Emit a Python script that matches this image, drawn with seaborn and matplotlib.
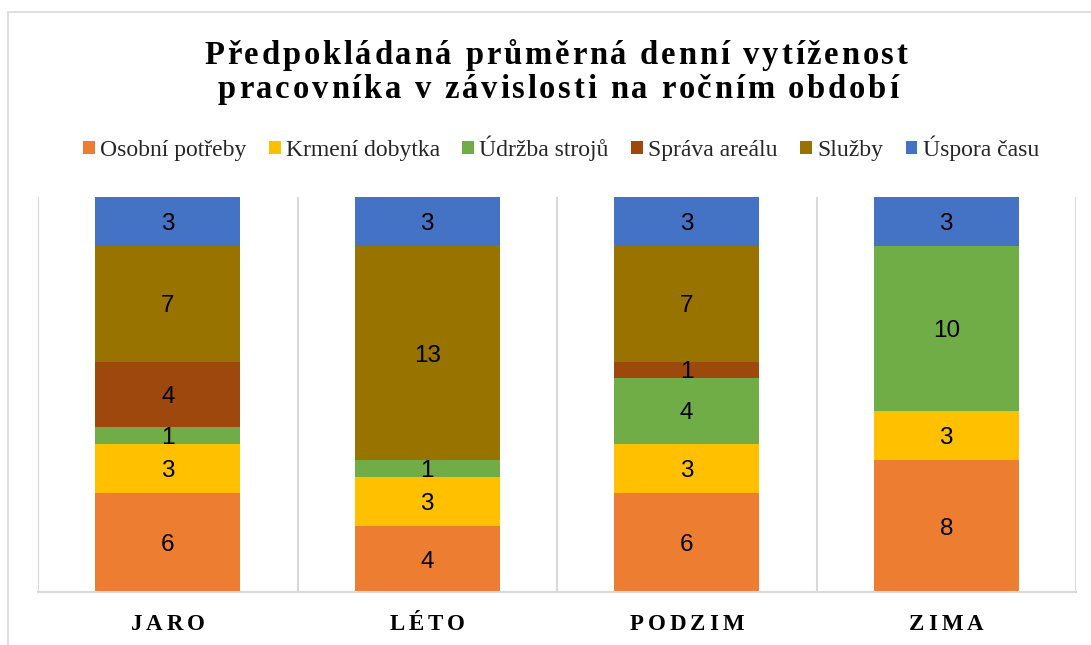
import numpy as np
import pandas as pd
import matplotlib
matplotlib.use("Agg")
import matplotlib.pyplot as plt
from matplotlib.patches import Patch, Rectangle
import seaborn as sns

# data (hours per day)
seasons = ["JARO", "LÉTO", "PODZIM", "ZIMA"]
osobni = [6, 4, 6, 8]
krmeni = [3, 3, 3, 3]
udrzba = [1, 1, 4, 10]
sprava = [4, 0, 1, 0]
sluzby = [7, 13, 7, 0]
uspora = [3, 3, 3, 3]

series_names = ["Osobní potřeby", "Krmení dobytka", "Údržba strojů",
                "Správa areálu", "Služby", "Úspora času"]
series_vals = [osobni, krmeni, udrzba, sprava, sluzby, uspora]
colors = ["#ED7D31", "#FFC000", "#70AD47", "#9E480E", "#997300", "#4472C4"]

title_lines = ["Předpokládaná průměrná denní vytíženost",
               "pracovníka v závislosti na ročním období"]

W, H = 1091, 645
sns.set_theme(style="white")
plt.rcParams["font.family"] = ["Liberation Sans", "DejaVu Sans"]

fig = plt.figure(figsize=(W / 100, H / 100), dpi=100)
ax = fig.add_axes([38 / W, 1 - 592 / H, (1076 - 38) / W, (592 - 197) / H])

df = pd.DataFrame({"season": seasons})
bottom = np.zeros(len(seasons))
for name, vals, col in zip(series_names, series_vals, colors):
    vals = np.array(vals, dtype=float)
    sns.barplot(x=df["season"], y=vals, bottom=bottom, color=col, width=0.56,
                linewidth=0, saturation=1, ax=ax)
    cont = ax.containers[-1]
    labels = [f"{int(v)}" if v > 0 else "" for v in vals]
    texts = ax.bar_label(cont, labels=labels, label_type="center", fontsize=17.5,
                         color="#000000", family=["Liberation Sans", "DejaVu Sans"])
    for t in texts:
        t.set_va("center_baseline")
    bottom += vals

ax.set_xlim(-0.5, 3.5)
ax.set_ylim(0, 24)
ax.set_yticks([])
ax.set_xlabel("")
ax.set_ylabel("")
ax.set_xticks(np.arange(len(seasons)))
ax.set_xticklabels([""] * len(seasons))
ax.tick_params(axis="x", length=0)
ax.set_xticks(np.arange(-0.5, len(seasons), 1.0), minor=True)
ax.tick_params(axis="x", which="minor", length=0)
ax.grid(True, axis="x", which="minor", color="#D9D9D9", linewidth=1.5)
ax.grid(False, axis="x", which="major")
ax.set_axisbelow(True)
for s in ["top", "left", "right"]:
    ax.spines[s].set_visible(False)
ax.spines["bottom"].set_color("#D9D9D9")
ax.spines["bottom"].set_linewidth(1.5)

# chart frame (Excel style)
fig.patches.append(Rectangle((8 / W, -0.05), 1.1, 1 - 12 / H + 0.05,
                             transform=fig.transFigure, fill=False,
                             edgecolor="#D9D9D9", linewidth=1.2))

renderer = fig.canvas.get_renderer()


def spaced_text(s, xc, y, spacing, **kw):
    # draw text with letter spacing, centred at xc (pixels), baseline y (pixels from top)
    offsets = []
    for i in range(len(s) + 1):
        if i == 0:
            offsets.append(0.0)
            continue
        t = fig.text(0, 0, s[:i].replace(" ", "\u00a0"), **kw)
        offsets.append(t.get_window_extent(renderer).width)
        t.remove()
    total = offsets[-1] + spacing * (len(s) - 1)
    x0 = xc - total / 2
    for i, ch in enumerate(s):
        if ch == " ":
            continue
        fig.text((x0 + offsets[i] + i * spacing) / W, 1 - y / H, ch,
                 ha="left", va="baseline", **kw)


title_kw = dict(fontsize=23.5, fontweight="bold", family=["Liberation Serif", "DejaVu Serif"],
                color="#000000")
spaced_text(title_lines[0], 556, 64, 2.8, **title_kw)
spaced_text(title_lines[1], 558, 98, 2.8, **title_kw)

cat_kw = dict(fontsize=16.5, fontweight="bold", family=["Liberation Serif", "DejaVu Serif"],
              color="#000000")
for i, lab in enumerate(seasons):
    xc = 38 + (i + 0.5) * (1076 - 38) / 4
    spaced_text(lab, xc, 630, 4, **cat_kw)

handles = [Patch(facecolor=c, edgecolor="none") for c in colors]
fig.legend(handles, series_names, loc="center", bbox_to_anchor=(561 / W, 1 - 148 / H),
           ncol=6, frameon=False, handlelength=0.5, handleheight=0.5,
           handletextpad=0.22, columnspacing=0.95, borderaxespad=0,
           prop={"family": ["Liberation Serif", "DejaVu Serif"], "size": 17})

fig.savefig("out.png", dpi=100, facecolor="white")
